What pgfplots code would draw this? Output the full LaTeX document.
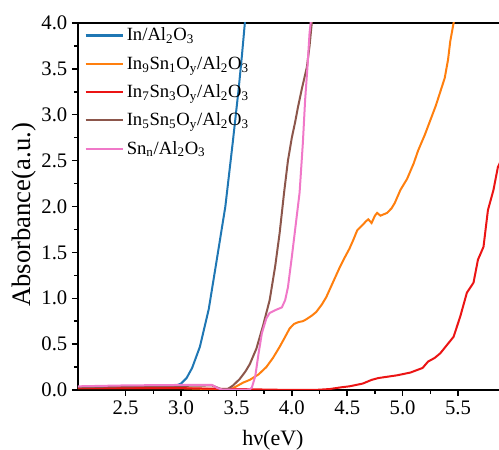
\documentclass[border=0pt]{standalone}
\usepackage{pgfplots}
\pgfplotsset{compat=1.18}
\usepackage{fontspec}
\setmainfont{Liberation Serif}
\definecolor{cblue}{RGB}{31,119,180}
\definecolor{corange}{RGB}{255,127,14}
\definecolor{cred}{RGB}{235,20,20}
\definecolor{cbrown}{RGB}{140,86,75}
\definecolor{cpink}{RGB}{240,120,200}
\begin{document}
\begin{tikzpicture}
\begin{axis}[
  name=ax,
  scale only axis,
  width=315.75pt, height=275.25pt,
  xmin=2.07, xmax=5.87, ymin=0, ymax=4,
  axis x line=box, axis y line=left,
  xtick pos=bottom, ytick pos=left,
  axis line style={-, line width=1.3pt},
  tick align=outside,
  major tick length=4.5pt, minor tick length=3pt,
  every tick/.style={black, line width=1.1pt},
  xtick={2.5,3.0,3.5,4.0,4.5,5.0,5.5},
  ytick={0,0.5,1,1.5,2,2.5,3,3.5,4},
  xticklabel={\pgfmathprintnumber[fixed,fixed zerofill,precision=1,assume math mode=true]{\tick}},
  yticklabel={\pgfmathprintnumber[fixed,fixed zerofill,precision=1,assume math mode=true]{\tick}},
  minor x tick num=1, minor y tick num=1,
  tick label style={font=\fontsize{15.5}{18}\selectfont},
  xlabel={hν(eV)}, ylabel={Absorbance(a.u.)},
  every axis x label/.style={at={(axis description cs:0.463,-0.136)}, anchor=center, font=\fontsize{16.5}{19}\selectfont},
  every axis y label/.style={at={(axis description cs:-0.128,0.477)}, rotate=90, anchor=center, font=\fontsize{20}{24}\selectfont},
  legend style={at={(axis description cs:0.012,0.998)}, anchor=north west, draw=none, fill=none,
    font=\fontsize{14}{16}\selectfont, row sep=6pt, inner sep=1pt},
  legend cell align=left,
  legend image code/.code={\draw[#1, line width=1.6pt] (0pt,0pt) -- (28pt,0pt);},
  clip=true,
]
\addplot[cblue, line width=1.5pt] coordinates {
(2.07,0.03)(2.5,0.035)(2.9,0.04)(2.95,0.045)(3.0,0.07)(3.05,0.13)(3.1,0.24)(3.17,0.47)(3.25,0.88)(3.32,1.4)(3.4,2.0)(3.467,2.7)(3.52,3.28)(3.55,3.65)(3.576,4.0)(3.58,4.05)};
\addlegendentry{In/Al\textsubscript{2}O\textsubscript{3}}
\addplot[corange, line width=1.5pt] coordinates {
(2.07,0.02)(3.0,0.02)(3.4,0.005)(3.44,0.0)(3.50,0.04)(3.56,0.08)(3.62,0.11)(3.70,0.17)(3.77,0.25)(3.83,0.35)(3.89,0.47)(3.94,0.58)(3.98,0.67)(4.02,0.72)(4.06,0.74)(4.1,0.75)(4.13,0.77)(4.18,0.81)(4.22,0.85)(4.27,0.93)(4.31,1.01)(4.37,1.17)(4.43,1.33)(4.48,1.45)(4.52,1.54)(4.56,1.65)(4.59,1.74)(4.64,1.80)(4.67,1.84)(4.69,1.86)(4.72,1.82)(4.75,1.90)(4.77,1.93)(4.80,1.90)(4.86,1.93)(4.90,1.98)(4.93,2.04)(4.98,2.18)(5.04,2.30)(5.10,2.47)(5.14,2.61)(5.20,2.78)(5.25,2.94)(5.30,3.10)(5.34,3.25)(5.38,3.40)(5.41,3.6)(5.43,3.8)(5.46,4.0)(5.47,4.05)};
\addlegendentry{In\textsubscript{9}Sn\textsubscript{1}O\textsubscript{y}/Al\textsubscript{2}O\textsubscript{3}}
\addplot[cred, line width=1.5pt] coordinates {
(2.07,0.02)(3.0,0.02)(3.5,0.01)(4.0,0.0)(4.2,0.0)(4.34,0.01)(4.45,0.03)(4.52,0.04)(4.64,0.07)(4.72,0.11)(4.78,0.13)(4.95,0.16)(5.07,0.19)(5.18,0.24)(5.23,0.31)(5.29,0.35)(5.34,0.40)(5.40,0.49)(5.46,0.58)(5.52,0.80)(5.58,1.06)(5.64,1.17)(5.68,1.42)(5.73,1.56)(5.77,1.96)(5.82,2.18)(5.86,2.43)(5.88,2.48)};
\addlegendentry{In\textsubscript{7}Sn\textsubscript{3}O\textsubscript{y}/Al\textsubscript{2}O\textsubscript{3}}
\addplot[cbrown, line width=1.5pt] coordinates {
(2.07,0.03)(2.5,0.04)(3.0,0.045)(3.28,0.05)(3.32,0.03)(3.36,0.01)(3.42,0.01)(3.47,0.05)(3.53,0.12)(3.58,0.2)(3.62,0.28)(3.68,0.45)(3.74,0.7)(3.80,0.98)(3.85,1.35)(3.89,1.71)(3.93,2.15)(3.965,2.5)(4.0,2.75)(4.03,2.92)(4.055,3.08)(4.09,3.28)(4.136,3.52)(4.16,3.75)(4.18,4.0)(4.19,4.05)};
\addlegendentry{In\textsubscript{5}Sn\textsubscript{5}O\textsubscript{y}/Al\textsubscript{2}O\textsubscript{3}}
\addplot[cpink, line width=1.5pt] coordinates {
(2.07,0.04)(2.5,0.05)(3.0,0.055)(3.28,0.055)(3.33,0.02)(3.37,0.005)(3.62,0.005)(3.64,0.03)(3.67,0.15)(3.70,0.40)(3.73,0.62)(3.77,0.78)(3.80,0.84)(3.85,0.87)(3.91,0.9)(3.94,0.98)(3.965,1.12)(4.0,1.45)(4.04,1.85)(4.07,2.15)(4.10,2.7)(4.12,3.16)(4.14,3.5)(4.16,3.89)(4.17,4.0)(4.175,4.05)};
\addlegendentry{Sn\textsubscript{n}/Al\textsubscript{2}O\textsubscript{3}}
\end{axis}
\pgfresetboundingbox
\path[use as bounding box] ([xshift=-58.5pt,yshift=-45pt]ax.south west) rectangle ([yshift=17.25pt]ax.north east);
\end{tikzpicture}
\end{document}
